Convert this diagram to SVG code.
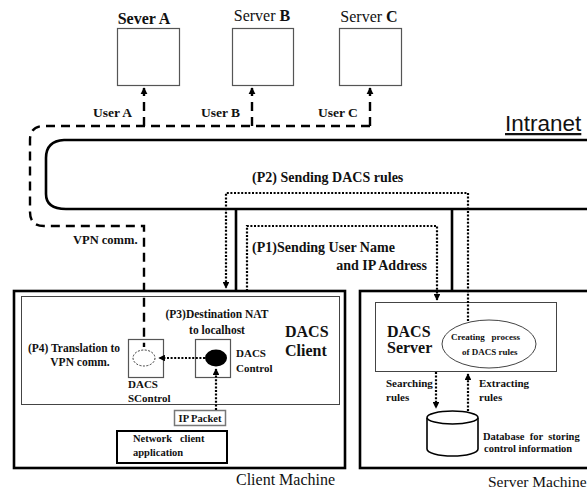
<svg xmlns="http://www.w3.org/2000/svg" width="587" height="491" viewBox="0 0 587 491" font-family="'Liberation Serif', 'DejaVu Serif', serif">
<style>
text{font-family:'Liberation Serif','DejaVu Serif',serif;fill:#111}
.b{font-weight:bold}
.box{fill:#fff;stroke:#555;stroke-width:1.2}
.thick{fill:none;stroke:#000;stroke-width:2.6}
.dash{fill:none;stroke:#000;stroke-width:2.4;stroke-dasharray:9 6}
.dot{fill:none;stroke:#000;stroke-width:2.2;stroke-dasharray:2 1.6}
.thin{fill:none;stroke:#444;stroke-width:1}
.sans{font-family:'Liberation Sans',Arial,sans-serif}
</style>
<defs>
<marker id="ah" viewBox="0 0 10 10" refX="9" refY="5" markerWidth="3" markerHeight="3" orient="auto" markerUnits="strokeWidth">
<path d="M0,0 L10,5 L0,10 Z" fill="#000"/>
</marker>
</defs>
<rect width="587" height="491" fill="#fff"/>

<g id="serverA">
<rect class="box" x="117.5" y="28.5" width="62" height="57"/>
<text class="b" x="144" y="24" font-size="16" text-anchor="middle">Sever A</text>
</g>
<g id="serverB">
<rect class="box" x="232.5" y="28.5" width="61" height="57"/>
<text x="262" y="21" font-size="16" text-anchor="middle">Server <tspan class="b">B</tspan></text>
</g>
<g id="serverC">
<rect class="box" x="339.5" y="28.5" width="62" height="57"/>
<text x="369" y="22" font-size="16" text-anchor="middle">Server <tspan class="b">C</tspan></text>
</g>

<g id="intranet">
<path class="thick" d="M587,140 H64 Q46,141 46,158 V194 Q46,209 66,209 H587" stroke-width="2.4"/>
<text class="sans" x="505" y="131" font-size="22.5" text-decoration="underline">Intranet</text>
</g>

<g id="client-machine">
<rect class="thick" x="14" y="291" width="331" height="177"/>
<rect class="thin" x="21.5" y="296.5" width="318" height="108"/>
<text x="236" y="485" font-size="16">Client Machine</text>
<text class="b" x="285" y="337" font-size="16">DACS</text>
<text class="b" x="285" y="356" font-size="16">Client</text>
</g>

<g id="dacs-scontrol">
<rect class="box" x="128.5" y="339.5" width="35" height="38" stroke-width="1"/>
<ellipse cx="144" cy="358" rx="11" ry="8" fill="#fff" stroke="#333" stroke-width="1" stroke-dasharray="2 1.5"/>
<text class="b" x="128" y="388" font-size="11">DACS</text>
<text class="b" x="128" y="402" font-size="11">SControl</text>
</g>
<g id="dacs-control">
<rect class="box" x="195.5" y="339.5" width="35" height="38" stroke-width="1"/>
<ellipse cx="216" cy="358" rx="11" ry="8.5" fill="#000"/>
<text class="b" x="236" y="357" font-size="11">DACS</text>
<text class="b" x="236" y="372" font-size="11">Control</text>
</g>
<g id="p3-label">
<text class="b" x="217" y="318" font-size="11.5" text-anchor="middle">(P3)Destination NAT</text>
<text class="b" x="217" y="334" font-size="11.5" text-anchor="middle">to localhost</text>
</g>
<g id="p4-label">
<text class="b" x="74" y="352" font-size="11.5" text-anchor="middle">(P4) Translation to</text>
<text class="b" x="80" y="366" font-size="11.5" text-anchor="middle">VPN comm.</text>
</g>
<g id="ip-packet">
<rect x="174.5" y="410.5" width="51" height="15" fill="#fff" stroke="#777" stroke-width="1.5"/>
<text class="b" x="200" y="422" font-size="10.5" text-anchor="middle">IP Packet</text>
</g>
<g id="network-client">
<rect x="117" y="431" width="110" height="32" fill="#fff" stroke="#000" stroke-width="2"/>
<text class="b" x="133" y="442" font-size="10.5" xml:space="preserve">Network   client</text>
<text class="b" x="133" y="456" font-size="10.5">application</text>
</g>

<g id="server-machine">
<rect class="thick" x="360" y="291" width="240" height="177"/>
<text x="488" y="487" font-size="15.5">Server Machine</text>
</g>
<g id="dacs-server">
<rect class="thin" x="375.5" y="302.5" width="181" height="69"/>
<text class="b" x="387" y="337" font-size="16">DACS</text>
<text class="b" x="387" y="353" font-size="16">Server</text>
</g>
<g id="creating-process">
<ellipse cx="489" cy="344" rx="47" ry="24" fill="#fff" stroke="#444" stroke-width="1"/>
<text class="b" x="451" y="340" font-size="9" xml:space="preserve">Creating   process</text>
<text class="b" x="462" y="355" font-size="9">of DACS rules</text>
</g>
<g id="database">
<path d="M427,418 V449 A25.5,7 0 0 0 478,449 V418" fill="#fff" stroke="#000" stroke-width="1.6"/>
<ellipse cx="452.5" cy="417.5" rx="25.5" ry="6.5" fill="#fff" stroke="#000" stroke-width="1.6"/>
<text class="b" x="483" y="440" font-size="10.5" xml:space="preserve">Database  for  storing</text>
<text class="b" x="484" y="452" font-size="10.5">control information</text>
</g>

<g id="connectors">
<path class="dash" d="M370,126 H44 Q30,126 30,140 V212 Q30,226 44,226 H144 V347"/>
<path class="dash" d="M144,126 V88" marker-end="url(#ah)" stroke-width="2"/>
<path class="dash" d="M252,126 V88" marker-end="url(#ah)" stroke-width="2"/>
<path class="dash" d="M370,126 V88" marker-end="url(#ah)" stroke-width="2"/>
<path class="thick" d="M236,209 V291"/>
<path class="thick" d="M452,209 V291"/>
<path class="dot" d="M468,321 V193 H226 V288" marker-end="url(#ah)"/>
<path class="dot" d="M247,291 V226 H437 V300" marker-end="url(#ah)"/>
<path class="dot" d="M205,358 H159" marker-end="url(#ah)"/>
<path class="dot" d="M216,410 V369" marker-end="url(#ah)"/>
<path class="dot" d="M436,372 V408" marker-end="url(#ah)"/>
<path class="dot" d="M468,411 V374" marker-end="url(#ah)"/>
<text class="b" x="93" y="117" font-size="13.5">User A</text>
<text class="b" x="201" y="117" font-size="13.5">User B</text>
<text class="b" x="318" y="117" font-size="13.5">User C</text>
<text class="b" x="73" y="244" font-size="12.5">VPN comm.</text>
<text class="b" x="252" y="182" font-size="14">(P2) Sending DACS rules</text>
<text class="b" x="252" y="252" font-size="14">(P1)Sending User Name</text>
<text class="b" x="427" y="270" font-size="14" text-anchor="end">and IP Address</text>
<text class="b" x="386" y="387" font-size="11">Searching</text>
<text class="b" x="386" y="401" font-size="11">rules</text>
<text class="b" x="479" y="387" font-size="11">Extracting</text>
<text class="b" x="479" y="401" font-size="11">rules</text>
</g>
</svg>
